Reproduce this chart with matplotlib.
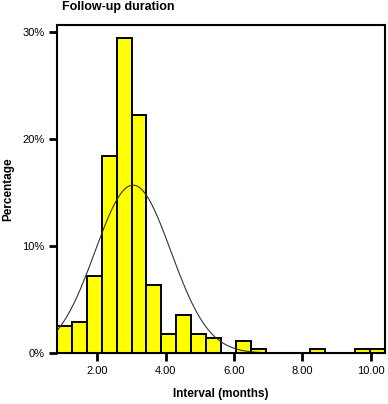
import matplotlib
matplotlib.use("Agg")
import matplotlib.pyplot as plt
import numpy as np

plt.rcParams['font.family'] = ['Liberation Sans', 'DejaVu Sans']

# histogram data (percent of cases per bin)
bin_start = 0.83
bin_width = 0.4355
percent = [2.5, 2.9, 7.2, 18.4, 29.4, 22.2, 6.4, 1.8, 3.6, 1.8, 1.4,
           0.0, 1.1, 0.36, 0.0, 0.0, 0.0, 0.36, 0.0, 0.0, 0.36, 0.36]

# fitted normal curve
mean = 3.05
sd = 1.107

xticks = [2, 4, 6, 8, 10]
yticks = [0, 10, 20, 30]

fig = plt.figure(figsize=(3.88, 4.04), dpi=100)
ax = fig.add_axes([0.147, 0.126, 0.845, 0.812])

lefts = bin_start + bin_width * np.arange(len(percent))
ax.bar(lefts, percent, width=bin_width, align='edge', color='#ffff00',
       edgecolor='black', linewidth=1.4)

xs = np.linspace(bin_start, bin_start + bin_width * len(percent), 400)
curve = 100 * bin_width / (sd * np.sqrt(2 * np.pi)) * np.exp(-0.5 * ((xs - mean) / sd) ** 2)
ax.plot(xs, curve, color='#333333', linewidth=0.8)

ax.set_xlim(bin_start, bin_start + bin_width * len(percent))
ax.set_ylim(0, 30.65)
ax.set_xticks(xticks)
ax.set_xticklabels(['%.2f' % t for t in xticks])
ax.set_yticks(yticks)
ax.set_yticklabels(['%d%%' % t for t in yticks])
ax.tick_params(direction='out', length=6, width=2, labelsize=8, pad=3)
for s in ax.spines.values():
    s.set_linewidth(1.5)

ax.set_xlabel('Interval (months)', fontsize=8.5, fontweight='bold', labelpad=9)
ax.set_ylabel('Percentage', fontsize=8.5, fontweight='bold', labelpad=6)
fig.text(0.16, 0.982, 'Follow-up duration', fontsize=9, fontweight='bold',
         ha='left', va='center')

fig.savefig('out.png', dpi=100)
